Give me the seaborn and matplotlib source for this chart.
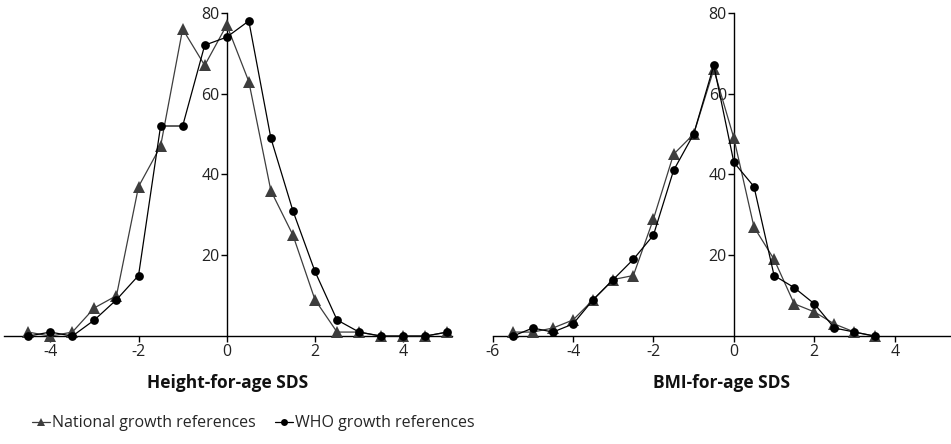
import matplotlib
matplotlib.use("Agg")
import matplotlib.pyplot as plt
import seaborn as sns
import pandas as pd
from matplotlib.lines import Line2D

# SDS bins
height_sds = [-4.5, -4, -3.5, -3, -2.5, -2, -1.5, -1, -0.5, 0, 0.5, 1, 1.5, 2, 2.5, 3, 3.5, 4, 4.5, 5]
height_national = [1, 0, 1, 7, 10, 37, 47, 76, 67, 77, 63, 36, 25, 9, 1, 1, 0, 0, 0, 1]
height_who = [0, 1, 0, 4, 9, 15, 52, 52, 72, 74, 78, 49, 31, 16, 4, 1, 0, 0, 0, 1]

bmi_sds = [-5.5, -5, -4.5, -4, -3.5, -3, -2.5, -2, -1.5, -1, -0.5, 0, 0.5, 1, 1.5, 2, 2.5, 3, 3.5]
bmi_national = [1, 1, 2, 4, 9, 14, 15, 29, 45, 50, 66, 49, 27, 19, 8, 6, 3, 1, 0]
bmi_who = [0, 2, 1, 3, 9, 14, 19, 25, 41, 50, 67, 43, 37, 15, 12, 8, 2, 1, 0]

series_names = ["National growth references", "WHO growth references"]
left_ticks = [-4, -2, 0, 2, 4]
right_ticks = [-6, -4, -2, 0, 2, 4]
y_ticks = [20, 40, 60, 80]

sns.set_theme(style="white")
plt.rcParams["font.family"] = ["Open Sans", "DejaVu Sans"]

NAT_COLOR = "#3d3d3d"
WHO_COLOR = "#000000"

fig = plt.figure(figsize=(9.51, 4.44), dpi=100)
ax1 = fig.add_axes([0.0042, 0.243, 0.4708, 0.728])
ax2 = fig.add_axes([0.518, 0.243, 0.482, 0.728])


def draw(ax, x, nat, who, xlim, xticks, xlabel):
    nat_df = pd.DataFrame({"sds": x, "n": nat})
    who_df = pd.DataFrame({"sds": x, "n": who})
    sns.lineplot(data=nat_df, x="sds", y="n", ax=ax, color=NAT_COLOR, lw=0.9,
                 marker="^", markersize=8, markeredgewidth=0, markerfacecolor=NAT_COLOR,
                 clip_on=False, zorder=3)
    sns.lineplot(data=who_df, x="sds", y="n", ax=ax, color=WHO_COLOR, lw=0.9,
                 marker="o", markersize=6.3, markeredgewidth=0, markerfacecolor=WHO_COLOR,
                 clip_on=False, zorder=4)
    ax.set_xlim(*xlim)
    ax.set_ylim(0, 80)
    ax.set_xticks(xticks)
    ax.set_xticklabels([str(t) for t in xticks])
    ax.set_yticks(y_ticks)
    ax.set_yticklabels([str(t) for t in y_ticks])
    for s in ("top", "right"):
        ax.spines[s].set_visible(False)
    ax.spines["left"].set_position(("data", 0))
    ax.spines["bottom"].set_position(("data", 0))
    for s in ("left", "bottom"):
        ax.spines[s].set_color("black")
        ax.spines[s].set_linewidth(1.0)
    ax.tick_params(axis="both", which="major", length=4, width=1.0, color="black",
                   labelsize=11.5, labelcolor="#222222", pad=2,
                   bottom=True, left=True)
    ax.tick_params(axis="y", pad=1)
    ax.set_xlabel(xlabel, fontsize=12.5, fontweight="bold", color="#111111", labelpad=10)
    ax.set_ylabel("")
    ax.patch.set_alpha(0)


draw(ax1, height_sds, height_national, height_who, (-5.05, 5.1), left_ticks, "Height-for-age SDS")
draw(ax2, bmi_sds, bmi_national, bmi_who, (-6, 5.4), right_ticks, "BMI-for-age SDS")

handles = [
    Line2D([], [], color=NAT_COLOR, lw=0.9, marker="^", markersize=6, markeredgewidth=0),
    Line2D([], [], color=WHO_COLOR, lw=0.9, marker="o", markersize=5, markeredgewidth=0),
]
fig.legend(handles, series_names, loc="center left", bbox_to_anchor=(0.027, 0.047),
           ncol=2, frameon=False, fontsize=11.5, handlelength=1.1, handletextpad=0.15,
           columnspacing=1.2, borderaxespad=0)

fig.savefig("out.png", dpi=100)
